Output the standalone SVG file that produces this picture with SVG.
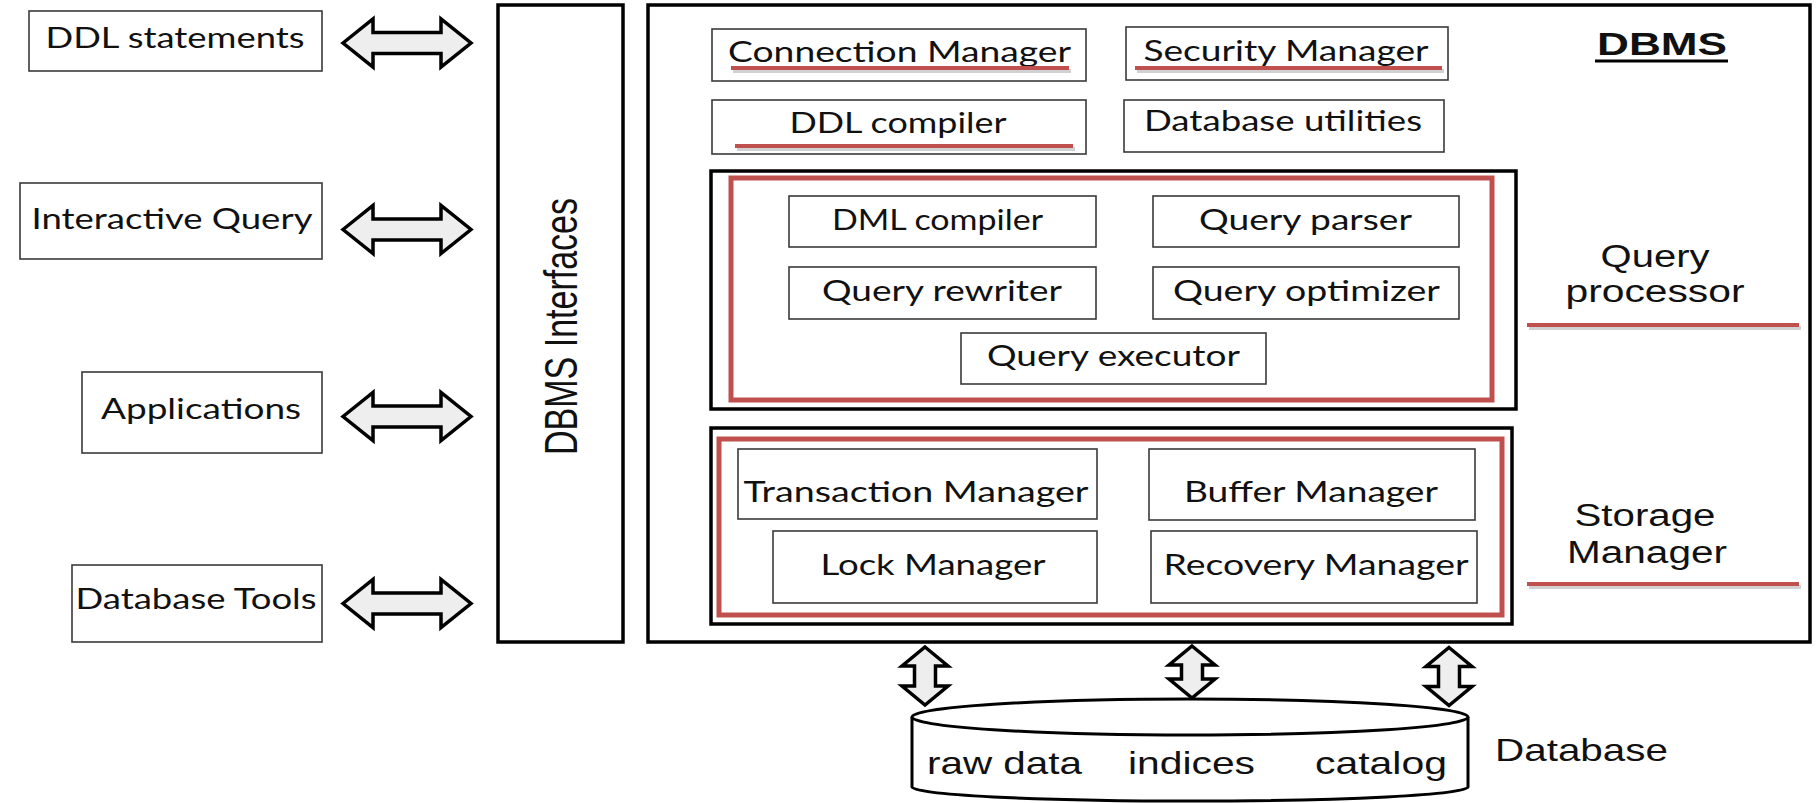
<svg xmlns="http://www.w3.org/2000/svg" xmlns:xlink="http://www.w3.org/1999/xlink" width="1816" height="803" viewBox="0 0 1816 803">
<style>
.box{fill:#fff;stroke:#3a3a3a;stroke-width:1.6}
.outer{fill:none;stroke:#000;stroke-width:3.5}
.red{fill:none;stroke:#c0504d;stroke-width:5}
.uline{stroke:#c0504d;stroke-width:4;stroke-linecap:butt}
.shadow{stroke:#000;stroke-opacity:0.18;stroke-width:4}
.cal{font-family:Lato,"Open Sans","Liberation Sans",sans-serif;font-size:28px;fill:#111;text-anchor:middle}
.ari{font-family:"Liberation Sans",Arial,sans-serif;font-size:31px;fill:#111;text-anchor:middle}
.arrow{fill:#eeeeee;stroke:#000;stroke-width:3.5;stroke-linejoin:miter}
</style>
<defs>
<path id="harrow" d="M-64,0 L-34,-24 L-34,-10.5 L34,-10.5 L34,-24 L64,0 L34,24 L34,10.5 L-34,10.5 L-34,24 Z"/>
<path id="varrow" d="M0,-29 L23,-10 L10.5,-10 L10.5,10 L23,10 L0,29 L-23,10 L-10.5,10 L-10.5,-10 L-23,-10 Z"/>
<path id="varrow2" d="M0,-26 L23,-7 L10.5,-7 L10.5,7 L23,7 L0,26 L-23,7 L-10.5,7 L-10.5,-7 L-23,-7 Z"/>
</defs>
<rect width="1816" height="803" fill="#fff"/>

<g id="ddl-statements">
<rect class="box" x="29" y="11" width="293" height="60"/>
<text class="cal" x="175" y="48" textLength="259" lengthAdjust="spacingAndGlyphs">DDL statements</text>
</g>
<g id="interactive-query">
<rect class="box" x="20" y="183" width="302" height="76"/>
<text class="cal" x="172" y="229" textLength="281" lengthAdjust="spacingAndGlyphs">Interactive Query</text>
</g>
<g id="applications">
<rect class="box" x="82" y="372" width="240" height="81"/>
<text class="cal" x="201" y="419" textLength="200" lengthAdjust="spacingAndGlyphs">Applications</text>
</g>
<g id="database-tools">
<rect class="box" x="72" y="565" width="250" height="77"/>
<text class="cal" x="196" y="609" textLength="241" lengthAdjust="spacingAndGlyphs">Database Tools</text>
</g>

<g id="dbms-interfaces">
<rect class="outer" x="498" y="5" width="125" height="637"/>
<text class="ari" transform="translate(577,326.5) rotate(-90)" x="0" y="0" style="font-size:46px" textLength="257" lengthAdjust="spacingAndGlyphs">DBMS Interfaces</text>
</g>

<g id="dbms">
<rect class="outer" x="648" y="5" width="1162" height="637"/>
<text class="ari" x="1662" y="55" style="font-size:32px;font-weight:bold" textLength="130" lengthAdjust="spacingAndGlyphs">DBMS</text>
<line x1="1595" y1="61" x2="1728" y2="61" stroke="#000" stroke-width="3"/>
</g>

<g id="connection-manager">
<rect class="box" x="712" y="29" width="374" height="52"/>
<text class="cal" x="899.5" y="62" textLength="343" lengthAdjust="spacingAndGlyphs">Connection Manager</text>
<line class="shadow" x1="733" y1="71" x2="1071" y2="71"/>
<line class="uline" x1="731" y1="68" x2="1069" y2="68"/>
</g>
<g id="security-manager">
<rect class="box" x="1126" y="27" width="322" height="53"/>
<text class="cal" x="1286" y="61" textLength="285" lengthAdjust="spacingAndGlyphs">Security Manager</text>
<line class="shadow" x1="1137" y1="71" x2="1444" y2="71"/>
<line class="uline" x1="1135" y1="68" x2="1442" y2="68"/>
</g>
<g id="ddl-compiler">
<rect class="box" x="712" y="100" width="374" height="54"/>
<text class="cal" x="898" y="133" textLength="217" lengthAdjust="spacingAndGlyphs">DDL compiler</text>
<line class="shadow" x1="737" y1="149" x2="1075" y2="149"/>
<line class="uline" x1="735" y1="146" x2="1073" y2="146"/>
</g>
<g id="database-utilities">
<rect class="box" x="1124" y="100" width="320" height="52"/>
<text class="cal" x="1283" y="131" textLength="278" lengthAdjust="spacingAndGlyphs">Database utilities</text>
</g>

<g id="query-processor">
<rect class="outer" x="711" y="171" width="805" height="238"/>
<rect class="red" x="731" y="178" width="761" height="222"/>
<text class="ari" x="1655" y="267" textLength="109" lengthAdjust="spacingAndGlyphs">Query</text>
<text class="ari" x="1655" y="302" textLength="179" lengthAdjust="spacingAndGlyphs">processor</text>
<line class="shadow" x1="1529" y1="328" x2="1801" y2="328"/>
<line class="uline" x1="1527" y1="325" x2="1799" y2="325"/>
</g>
<g id="dml-compiler">
<rect class="box" x="789" y="196" width="307" height="51"/>
<text class="cal" x="937.5" y="230" textLength="211" lengthAdjust="spacingAndGlyphs">DML compiler</text>
</g>
<g id="query-parser">
<rect class="box" x="1153" y="196" width="306" height="51"/>
<text class="cal" x="1305.5" y="230" textLength="213" lengthAdjust="spacingAndGlyphs">Query parser</text>
</g>
<g id="query-rewriter">
<rect class="box" x="789" y="267" width="307" height="52"/>
<text class="cal" x="942" y="301" textLength="240" lengthAdjust="spacingAndGlyphs">Query rewriter</text>
</g>
<g id="query-optimizer">
<rect class="box" x="1153" y="267" width="306" height="52"/>
<text class="cal" x="1306.5" y="301" textLength="267" lengthAdjust="spacingAndGlyphs">Query optimizer</text>
</g>
<g id="query-executor">
<rect class="box" x="961" y="333" width="305" height="51"/>
<text class="cal" x="1113.5" y="366" textLength="253" lengthAdjust="spacingAndGlyphs">Query executor</text>
</g>

<g id="storage-manager">
<rect class="outer" x="711" y="428" width="801" height="196"/>
<rect class="red" x="719" y="439" width="783" height="176"/>
<text class="ari" x="1645" y="526" textLength="141" lengthAdjust="spacingAndGlyphs">Storage</text>
<text class="ari" x="1647" y="563" textLength="160" lengthAdjust="spacingAndGlyphs">Manager</text>
<line class="shadow" x1="1529" y1="587" x2="1801" y2="587"/>
<line class="uline" x1="1527" y1="584" x2="1799" y2="584"/>
</g>
<g id="transaction-manager">
<rect class="box" x="738" y="449" width="359" height="70"/>
<text class="cal" x="916" y="502" textLength="345" lengthAdjust="spacingAndGlyphs">Transaction Manager</text>
</g>
<g id="buffer-manager">
<rect class="box" x="1149" y="449" width="326" height="71"/>
<text class="cal" x="1311" y="502" textLength="254" lengthAdjust="spacingAndGlyphs">Buffer Manager</text>
</g>
<g id="lock-manager">
<rect class="box" x="773" y="531" width="324" height="72"/>
<text class="cal" x="933" y="575" textLength="225" lengthAdjust="spacingAndGlyphs">Lock Manager</text>
</g>
<g id="recovery-manager">
<rect class="box" x="1151" y="531" width="326" height="72"/>
<text class="cal" x="1316" y="575" textLength="305" lengthAdjust="spacingAndGlyphs">Recovery Manager</text>
</g>

<g id="database">
<path d="M912,717 L912,787 A278,14 0 0 0 1468,787 L1468,717" fill="#fff" stroke="#000" stroke-width="3"/>
<ellipse cx="1190" cy="717" rx="278" ry="18" fill="#fff" stroke="#000" stroke-width="3"/>
<text class="ari" x="1004.5" y="774" style="font-size:32px" textLength="155" lengthAdjust="spacingAndGlyphs">raw data</text>
<text class="ari" x="1191.5" y="774" style="font-size:32px" textLength="127" lengthAdjust="spacingAndGlyphs">indices</text>
<text class="ari" x="1381" y="774" style="font-size:32px" textLength="132" lengthAdjust="spacingAndGlyphs">catalog</text>
<text class="ari" x="1581.5" y="761" style="font-size:32px" textLength="173" lengthAdjust="spacingAndGlyphs">Database</text>
</g>

<g id="connectors">
<use xlink:href="#harrow" href="#harrow" class="arrow" transform="translate(407,43)"/>
<use xlink:href="#harrow" href="#harrow" class="arrow" transform="translate(407,229.5)"/>
<use xlink:href="#harrow" href="#harrow" class="arrow" transform="translate(407,416.5)"/>
<use xlink:href="#harrow" href="#harrow" class="arrow" transform="translate(407,603.5)"/>
<use xlink:href="#varrow" href="#varrow" class="arrow" transform="translate(925,676)"/>
<use xlink:href="#varrow2" href="#varrow2" class="arrow" transform="translate(1192,672)"/>
<use xlink:href="#varrow" href="#varrow" class="arrow" transform="translate(1449,676.5)"/>
</g>
</svg>
